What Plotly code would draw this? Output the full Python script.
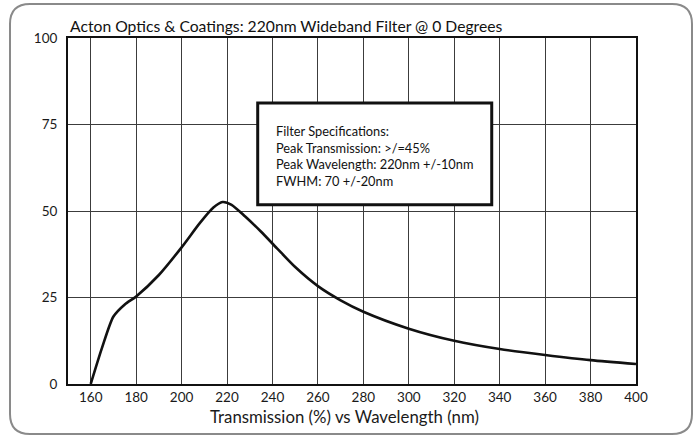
import plotly.graph_objects as go

# Transmission curve
wavelength = [160, 165, 170, 175, 180, 190, 200, 208, 214, 218, 222, 228, 235, 242, 250, 260, 270, 280, 300, 320, 340, 360, 380, 400]
transmission = [0, 10.5, 19.5, 23, 25.3, 31.5, 39.5, 46.5, 51.0, 52.6, 51.8, 48.4, 44.0, 39.2, 33.8, 28.3, 24.2, 20.9, 16, 12.5, 10.1, 8.4, 6.9, 5.8]

x_ticks = [160, 180, 200, 220, 240, 260, 280, 300, 320, 340, 360, 380, 400]
y_ticks = [0, 25, 50, 75, 100]

title = "Acton Optics &amp; Coatings: 220nm Wideband Filter @ 0 Degrees"
x_title = "Transmission (%) vs Wavelength (nm)"
specs = ["Filter Specifications:",
         "Peak Transmission: &gt;/=45%",
         "Peak Wavelength: 220nm +/-10nm",
         "FWHM: 70 +/-20nm"]

FONT = "Lato, Liberation Sans, sans-serif"

fig = go.Figure(go.Scatter(
    x=wavelength, y=transmission,
    mode="lines",
    line=dict(color="#111111", width=2.6, shape="spline", smoothing=0.7),
    hoverinfo="x+y",
))

fig.update_layout(
    width=698, height=436,
    margin=dict(l=68, r=62, t=38, b=52),
    paper_bgcolor="white",
    plot_bgcolor="white",
    showlegend=False,
    font=dict(family=FONT, color="#1a1a1a", size=14),
)

fig.update_xaxes(
    range=[150, 400], tickvals=x_ticks,
    showgrid=True, gridcolor="#3c3c3c", gridwidth=1.3,
    showline=True, linecolor="#111111", linewidth=2, mirror=True,
    zeroline=False, ticks="", ticklabelstandoff=0,
    tickfont=dict(size=13.5),
)
fig.update_yaxes(
    range=[0, 100], tickvals=y_ticks,
    showgrid=True, gridcolor="#3c3c3c", gridwidth=1.3,
    showline=True, linecolor="#111111", linewidth=2, mirror=True,
    zeroline=False, ticks="", ticklabelstandoff=6,
    tickfont=dict(size=13.5),
)

# chart title above the plot
fig.add_annotation(
    text=title, xref="paper", yref="paper", x=0, y=1,
    xanchor="left", yanchor="bottom", yshift=1, showarrow=False,
    font=dict(size=15.7, color="#111111"),
)

# x axis caption, sits a little left of centre like the original
fig.add_annotation(
    text=x_title, xref="paper", yref="paper", x=0.486, y=0,
    xanchor="center", yanchor="middle", yshift=-32, showarrow=False,
    font=dict(size=16.8, color="#1a1a1a"),
)

# specification box
fig.add_shape(
    type="rect", xref="x", yref="y",
    x0=233.5, x1=336.5, y0=51.8, y1=81.2,
    line=dict(color="#111111", width=3), fillcolor="white", layer="above",
)
fig.add_annotation(
    text="<br>".join(specs), xref="x", yref="y", x=240.5, y=66.0,
    xanchor="left", yanchor="middle", align="left", showarrow=False,
    font=dict(size=12.8, color="#111111"),
)

# rounded outer frame
x0, x1 = (10 - 68) / 568, (692 - 68) / 568
y0, y1 = (384 - 434) / 346, (384 - 4) / 346
rx, ry = 20 / 568, 20 / 346
path = (f"M {x0 + rx},{y1} L {x1 - rx},{y1} Q {x1},{y1} {x1},{y1 - ry} "
        f"L {x1},{y0 + ry} Q {x1},{y0} {x1 - rx},{y0} "
        f"L {x0 + rx},{y0} Q {x0},{y0} {x0},{y0 + ry} "
        f"L {x0},{y1 - ry} Q {x0},{y1} {x0 + rx},{y1} Z")
fig.add_shape(type="path", xref="paper", yref="paper", path=path,
              line=dict(color="#8a8a8a", width=2))

# drop the default body margin so the figure sits at the page corner
fig.write_html("out.html", config={"displayModeBar": False},
               post_script="document.body.style.margin='0';")
